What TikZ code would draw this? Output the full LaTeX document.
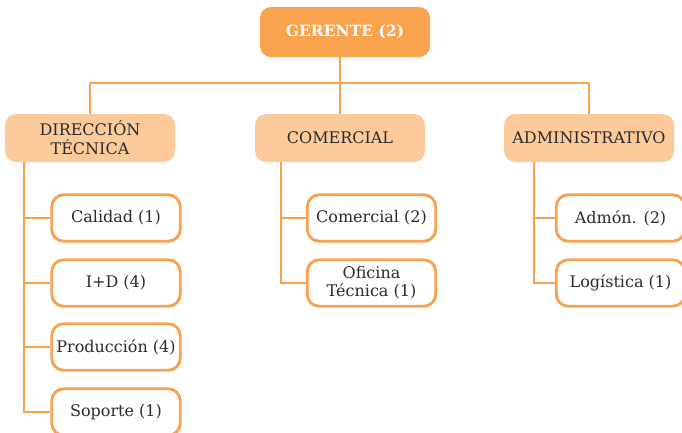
\documentclass[tikz,border=0pt]{standalone}
\usepackage{fontspec}
\setmainfont{DejaVu Serif}
\begin{document}
\definecolor{topfill}{HTML}{F9A34F}
\definecolor{midfill}{HTML}{FDCB9B}
\definecolor{edge}{HTML}{F8A150}
\definecolor{ink}{HTML}{2B2B2B}
\begin{tikzpicture}[x=1pt,y=-1pt,
  topbox/.style={rectangle, rounded corners=11pt, fill=topfill, text=white,
    font=\fontsize{15.5}{18}\selectfont\bfseries, minimum width=170pt, minimum height=50pt, align=center, inner sep=0pt},
  midbox/.style={rectangle, rounded corners=11pt, fill=midfill, text=ink,
    font=\fontsize{16}{19}\selectfont, minimum width=170pt, minimum height=48pt, align=center, inner sep=0pt},
  leafbox/.style={rectangle, rounded corners=12pt, draw=edge, line width=2.9pt, fill=white, text=ink,
    font=\fontsize{16}{18}\selectfont, minimum width=128.5pt, minimum height=46.5pt, align=center, inner sep=0pt},
  link/.style={draw=edge, line width=2.9pt}]
\useasboundingbox (0,0) rectangle (682,432);

% rails and bus levels for the connectors
\coordinate (bus) at (0,83);
\coordinate (dtrail) at (24,0);
\coordinate (corail) at (281,0);
\coordinate (adrail) at (534,0);

% top level
\node[topbox] (ger) at (345,32) {GERENTE (2)};

% second level
\node[midbox] (dt) at (90,138) {DIRECCIÓN\\TÉCNICA};
\node[midbox] (com) at (340,138) {COMERCIAL};
\node[midbox] (adm) at (589,138) {ADMINISTRATIVO};

% leaves
\node[leafbox] (cal) at (116,218) {Calidad (1)};
\node[leafbox] (imd) at (116,283) {I+D (4)};
\node[leafbox] (pro) at (116,347) {Producción (4)};
\node[leafbox] (sop) at (116,412) {Soporte (1)};

\node[leafbox] (cm2) at (371.5,218) {Comercial (2)};
\node[leafbox] (ofi) at (371.5,283) {Oficina\\Técnica (1)};

\node[leafbox] (adn) at (620.5,218) {Admón. (2)};
\node[leafbox] (log) at (620.5,283) {Logística (1)};

% connectors
\path[link] (com.north |- ger.south) -- (com.north |- bus);
\path[link] (dt.north |- bus) -- (adm.north |- bus);
\path[link] (dt.north |- bus) -- (dt.north);
\path[link] (com.north |- bus) -- (com.north);
\path[link] (adm.north |- bus) -- (adm.north);

\path[link] (dtrail |- dt.south) -- (dtrail |- sop) -- (sop.west);
\path[link] (dtrail |- cal) -- (cal.west);
\path[link] (dtrail |- imd) -- (imd.west);
\path[link] (dtrail |- pro) -- (pro.west);

\path[link] (corail |- com.south) -- (corail |- ofi) -- (ofi.west);
\path[link] (corail |- cm2) -- (cm2.west);

\path[link] (adrail |- adm.south) -- (adrail |- log) -- (log.west);
\path[link] (adrail |- adn) -- (adn.west);
\end{tikzpicture}
\end{document}
